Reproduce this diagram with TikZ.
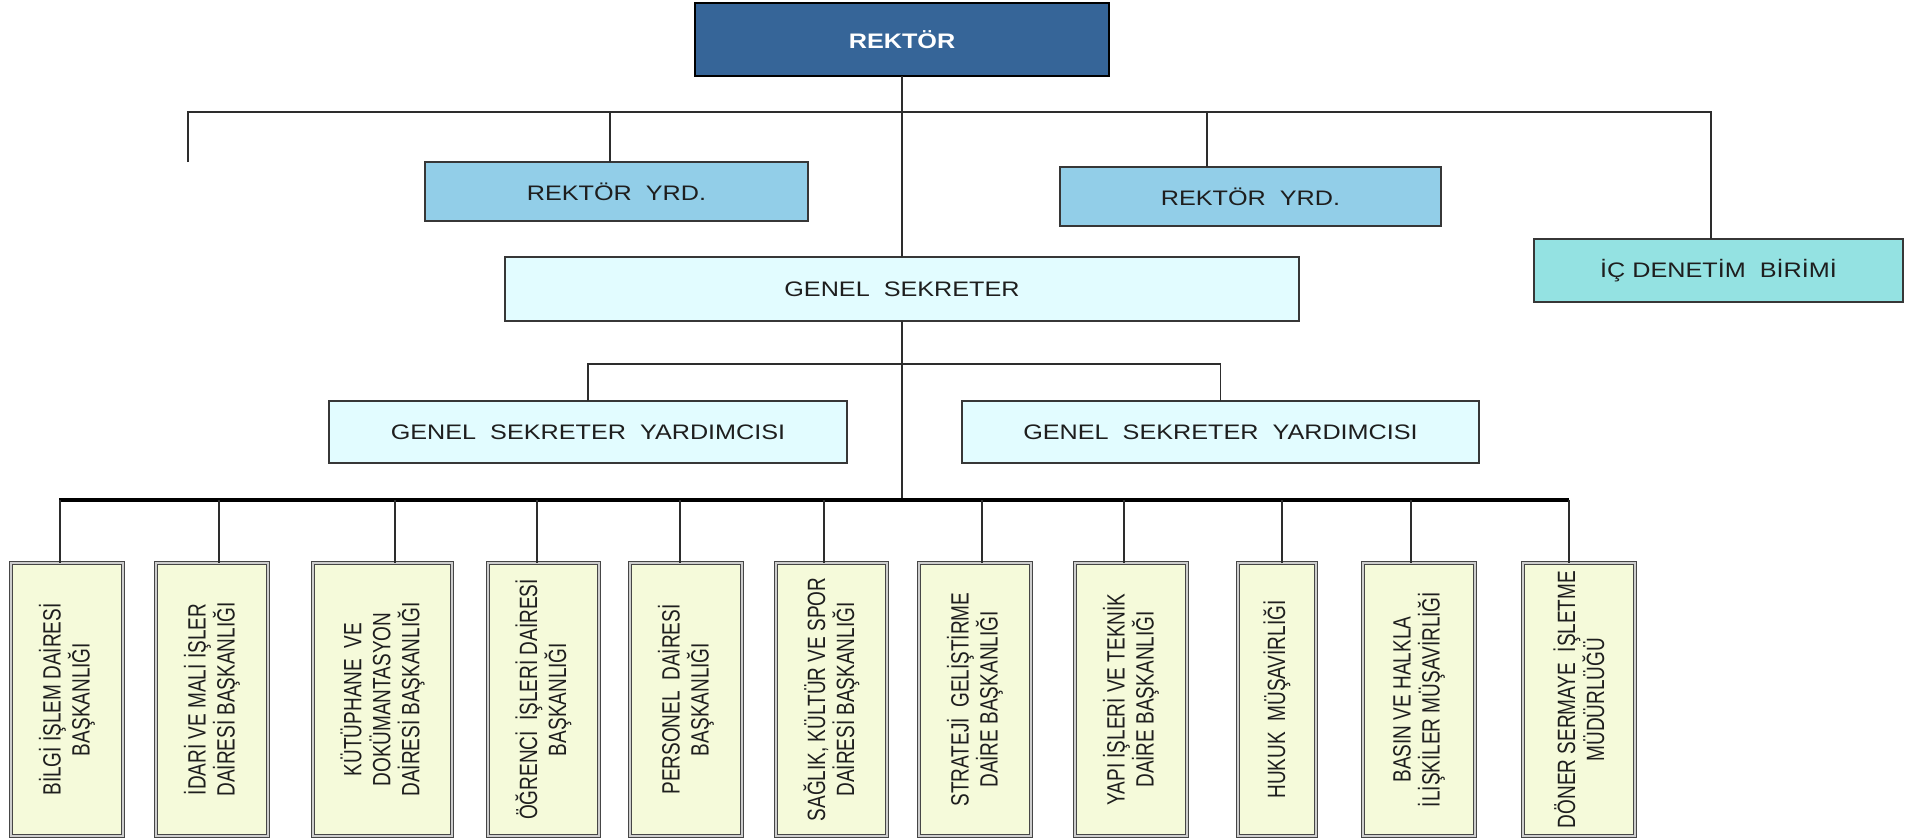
\documentclass[tikz,border=0pt]{standalone}
\usepackage{fontspec}
\setmainfont{Liberation Sans}
\newfontfamily\hfont[FakeStretch=1.2]{Liberation Sans}
\newfontfamily\vfont[FakeStretch=0.76]{Liberation Sans}
\definecolor{rekc}{RGB}{54,101,152}
\definecolor{yrdc}{RGB}{146,206,232}
\definecolor{icc}{RGB}{148,226,226}
\definecolor{gsc}{RGB}{226,252,255}
\definecolor{vfill}{RGB}{245,250,218}
\definecolor{linec}{RGB}{45,45,45}
\definecolor{boxc}{RGB}{55,55,55}
\definecolor{textc}{RGB}{30,30,30}
\definecolor{vbord}{RGB}{70,70,70}
\definecolor{vdbl}{RGB}{205,205,205}
\begin{document}
\begin{tikzpicture}[x=1pt,y=1pt,
  lin/.style={draw=linec, line width=1.3pt},
  hbox/.style={draw=boxc, line width=1.4pt, inner sep=0pt, outer sep=0pt, text=textc,
    font=\hfont\fontsize{21}{25}\selectfont},
  vbox/.style={draw=vbord, double=vdbl, double distance=1.4pt, line width=1pt, fill=vfill,
    rotate=90, minimum width=273pt, inner sep=0pt, outer sep=0pt, align=center, text=textc,
    font=\vfont\fontsize{25}{29}\selectfont},
]
\fill[white] (0,0) rectangle (1910,-838);
\useasboundingbox (0,0) rectangle (1910,-838);

% upper boxes
\node[hbox, draw=black, line width=2.5pt, fill=rekc, text=white, font=\hfont\bfseries\fontsize{21}{25}\selectfont,
  minimum width=414pt, minimum height=73pt] (rek) at (902,-39.5) {REKTÖR};
\node[hbox, fill=yrdc, minimum width=383pt, minimum height=59pt] (yrdL) at (616.5,-191.5) {REKTÖR~ YRD.};
\node[hbox, fill=yrdc, minimum width=381pt, minimum height=59pt] (yrdR) at (1250.5,-196.5) {REKTÖR~ YRD.};
\node[hbox, fill=icc, minimum width=369pt, minimum height=63pt] (ic) at (1718.5,-270.5) {İÇ DENETİM~ BİRİMİ};
\node[hbox, fill=gsc, minimum width=794pt, minimum height=64pt] (gs) at (902,-289) {GENEL~ SEKRETER};
\node[hbox, fill=gsc, minimum width=518pt, minimum height=62pt] (gsyL) at (588,-432) {GENEL~ SEKRETER~ YARDIMCISI};
\node[hbox, fill=gsc, minimum width=517pt, minimum height=62pt] (gsyR) at (1220.5,-432) {GENEL~ SEKRETER~ YARDIMCISI};

% lower boxes
\node[vbox, minimum height=112pt] (b1) at (67,-699.5) {BİLGİ İŞLEM DAİRESİ\\BAŞKANLIĞI};
\node[vbox, minimum height=112pt] (b2) at (212,-699.5) {İDARİ VE MALİ İŞLER\\DAİRESİ BAŞKANLIĞI};
\node[vbox, minimum height=139pt] (b3) at (382.5,-699.5) {KÜTÜPHANE~ VE\\DOKÜMANTASYON\\DAİRESİ BAŞKANLIĞI};
\node[vbox, minimum height=111pt] (b4) at (543.5,-699.5) {ÖĞRENCİ~ İŞLERİ DAİRESİ\\BAŞKANLIĞI};
\node[vbox, minimum height=112pt] (b5) at (686,-699.5) {PERSONEL~ DAİRESİ\\BAŞKANLIĞI};
\node[vbox, minimum height=111pt] (b6) at (831.5,-699.5) {SAĞLIK, KÜLTÜR VE SPOR\\DAİRESİ BAŞKANLIĞI};
\node[vbox, minimum height=112pt] (b7) at (975,-699.5) {STRATEJİ~ GELİŞTİRME\\DAİRE BAŞKANLIĞI};
\node[vbox, minimum height=112pt] (b8) at (1131,-699.5) {YAPI İŞLERİ VE TEKNİK\\DAİRE BAŞKANLIĞI};
\node[vbox, minimum height=78pt] (b9) at (1277,-699.5) {HUKUK~ MÜŞAVİRLİĞİ};
\node[vbox, minimum height=112pt] (b10) at (1419,-699.5) {BASIN VE HALKLA\\İLİŞKİLER MÜŞAVİRLİĞİ};
\node[vbox, minimum height=112pt] (b11) at (1579,-699.5) {DÖNER SERMAYE~ İŞLETME\\MÜDÜRLÜĞÜ};

% top bus
\coordinate (lfree) at (188,-162);
\coordinate (tL) at (188,-112);
\coordinate (tR) at (1711,-112);
\coordinate (dyl) at (610,-112);
\coordinate (dyr) at (1207,-112);
\draw[lin] (lfree) -- (tL) -- (tR) -- (tR |- ic.north);
\draw[lin] (dyl) -- (dyl |- yrdL.north);
\draw[lin] (dyr) -- (dyr |- yrdR.north);
\draw[lin] (rek.south) -- (gs.north);

% GSY bus
\coordinate (gL) at (588,-364);
\coordinate (gR) at (1220.5,-364);
\draw[lin] (gsyL.north) -- (gL) -- (gR) -- (gsyR.north);

% thick bus
\coordinate (busL) at (59,-500);
\coordinate (busR) at (1569,-500);
\draw[lin] (gs.south) -- (gs.south |- busL);
\draw[draw=black, line width=4.5pt] (busL) -- (busR);
\foreach \i/\x in {1/60,2/219,3/395,4/537,5/680,6/824,7/982,8/1124,9/1282,10/1411,11/1569}{
  \coordinate (t\i) at (\x,-500);
  \draw[lin] (t\i) -- (t\i |- b\i.east);
}
\end{tikzpicture}
\end{document}
